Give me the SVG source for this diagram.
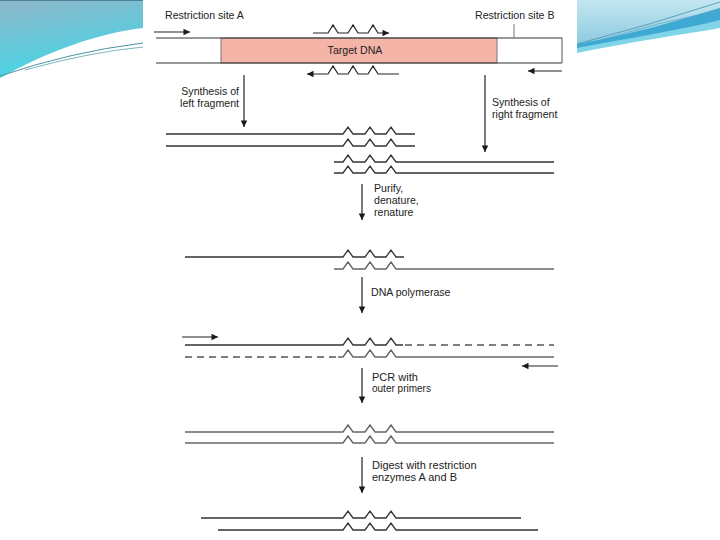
<svg xmlns="http://www.w3.org/2000/svg" width="720" height="540" viewBox="0 0 720 540">
<defs>
<linearGradient id="gl" x1="0" y1="0" x2="0.3" y2="1">
<stop offset="0" stop-color="#8fb6c9"/>
<stop offset="1" stop-color="#45d6e6"/>
</linearGradient>
<linearGradient id="gr" x1="0" y1="0" x2="0" y2="1">
<stop offset="0" stop-color="#c4e6f0"/>
<stop offset="1" stop-color="#8ccbe0"/>
</linearGradient>
<marker id="ah" viewBox="0 0 10 10" refX="10" refY="5" markerWidth="9" markerHeight="6.5" markerUnits="userSpaceOnUse" orient="auto">
<path d="M0,0 L10,5 L0,10 Z" fill="#1a1a1a"/>
</marker>
<style>
.t{font-family:"Liberation Sans",Arial,sans-serif;font-size:10.6px;fill:#222}
.s{fill:none;stroke:#333;stroke-width:1.3}
.g{fill:none;stroke:#666;stroke-width:1.4}
.d{fill:none;stroke:#555;stroke-width:1.3;stroke-dasharray:7 5}
.a{fill:none;stroke:#222;stroke-width:1.2;marker-end:url(#ah)}
</style>
</defs>
<rect width="720" height="540" fill="#fff"/>
<g id="slide-decoration">
<path d="M0,0 H143 V28 C100,33 50,50 0,78 Z" fill="url(#gl)"/>
<path d="M0,76 Q70,52 143,43" fill="none" stroke="#4a94a4" stroke-width="1"/>
<path d="M25,70 Q90,52 143,47" fill="none" stroke="#5aa0b0" stroke-width="0.8"/>
<line x1="0" y1="0.5" x2="720" y2="0.5" stroke="#4a7f95" stroke-width="1"/>
<path d="M577,0 H720 V28 C680,35 630,42 577,53 Z" fill="#7fd4e8"/>
<path d="M577,0 H720 V8 C680,20 630,35 577,44 Z" fill="url(#gr)"/>
<path d="M577,44 C630,35 680,20 720,8 V20 C680,30 630,38 577,48 Z" fill="#3fa9d4"/>
<path d="M577,44 Q650,25 720,2" fill="none" stroke="#4a90b0" stroke-width="0.8"/>
<path d="M600,40 Q660,22 720,10" fill="none" stroke="#5aa0c0" stroke-width="0.7"/>
<rect x="143" y="0" width="434" height="540" fill="#fff"/>
</g>
<g id="labels">
<text class="t" x="165" y="19">Restriction site A</text>
<text class="t" x="475" y="19">Restriction site B</text>
<text class="t" x="239" y="95" text-anchor="end">Synthesis of</text>
<text class="t" x="239" y="107" text-anchor="end">left fragment</text>
<text class="t" x="492" y="106">Synthesis of</text>
<text class="t" x="492" y="118">right fragment</text>
<text class="t" x="374" y="192">Purify,</text>
<text class="t" x="374" y="204">denature,</text>
<text class="t" x="374" y="216">renature</text>
<text class="t" x="371" y="296">DNA polymerase</text>
<text class="t" x="372" y="381" style="font-size:11px">PCR with</text>
<text class="t" x="372" y="392" style="font-size:10px">outer primers</text>
<text class="t" x="372" y="469" style="font-size:11px">Digest with restriction</text>
<text class="t" x="372" y="481" style="font-size:11px">enzymes A and B</text>
</g>
<g id="target-dna">
<rect x="221" y="38" width="276" height="25" fill="#f4b4a8" stroke="#777" stroke-width="1"/>
<line x1="156" y1="38" x2="562" y2="38" stroke="#333" stroke-width="1.2"/>
<line x1="156" y1="63" x2="562" y2="63" stroke="#333" stroke-width="1.2"/>
<line x1="562" y1="38" x2="562" y2="63" stroke="#555" stroke-width="1"/>
<line x1="514" y1="24" x2="514" y2="38" stroke="#777" stroke-width="1"/>
<text class="t" x="355" y="54" text-anchor="middle">Target DNA</text>
</g>
<g id="left-fragment">
<path class="s" d="M166,134 H343 L348,127 L353,134 H365 L370,127 L375,134 H386 L391,127 L396,134 H415"/>
<path class="s" d="M166,146 H343 L348,139 L353,146 H365 L370,139 L375,146 H386 L391,139 L396,146 H415"/>
</g>
<g id="right-fragment">
<path class="s" d="M334,162 H343 L348,155 L353,162 H365 L370,155 L375,162 H386 L391,155 L396,162 H554"/>
<path class="s" d="M334,173 H343 L348,166 L353,173 H365 L370,166 L375,173 H386 L391,166 L396,173 H554"/>
</g>
<g id="renatured">
<path class="s" d="M185,257 H343 L348,250 L353,257 H365 L370,250 L375,257 H386 L391,250 L396,257 H404"/>
<path class="g" d="M334,269 H343 L348,262 L353,269 H365 L370,262 L375,269 H386 L391,262 L396,269 H554"/>
</g>
<g id="extended">
<path class="s" d="M185,345 H343 L348,338 L353,345 H365 L370,338 L375,345 H386 L391,338 L396,345 H403"/>
<line class="d" x1="405" y1="345" x2="554" y2="345"/>
<line class="d" x1="185" y1="357" x2="338" y2="357"/>
<path class="g" d="M338,357 H343 L348,350 L353,357 H365 L370,350 L375,357 H386 L391,350 L396,357 H554"/>
</g>
<g id="amplified">
<path class="g" d="M185,432 H343 L348,425 L353,432 H365 L370,425 L375,432 H386 L391,425 L396,432 H554"/>
<path class="g" d="M185,443 H343 L348,436 L353,443 H365 L370,436 L375,443 H386 L391,436 L396,443 H554"/>
</g>
<g id="digested">
<path class="s" d="M201,518 H343 L348,511 L353,518 H365 L370,511 L375,518 H386 L391,511 L396,518 H521"/>
<path class="s" d="M218,530 H343 L348,523 L353,530 H365 L370,523 L375,530 H386 L391,523 L396,530 H538"/>
</g>
<g id="connectors">
<line class="a" x1="154" y1="32" x2="190" y2="32"/>
<path class="a" d="M313,33 H328 L333,25 L338,33 H348 L353,25 L358,33 H368 L373,25 L378,33 H389"/>
<path class="a" d="M399,74 H378 L373,66 L368,74 H358 L353,66 L348,74 H338 L333,66 L328,74 H307"/>
<line class="a" x1="562" y1="71" x2="528" y2="71"/>
<line class="a" x1="244" y1="75" x2="244" y2="127"/>
<line class="a" x1="485" y1="75" x2="485" y2="152"/>
<line class="a" x1="362" y1="184" x2="362" y2="220"/>
<line class="a" x1="362" y1="277" x2="362" y2="313"/>
<line class="a" x1="182" y1="337" x2="218" y2="337"/>
<line class="a" x1="558" y1="366" x2="522" y2="366"/>
<line class="a" x1="362" y1="368" x2="362" y2="403"/>
<line class="a" x1="362" y1="457" x2="362" y2="493"/>
</g>
</svg>
